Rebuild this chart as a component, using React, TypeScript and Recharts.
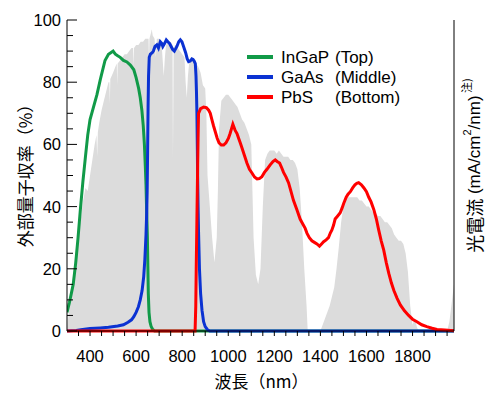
import React from 'react';
import { ComposedChart, Area, Line, XAxis, YAxis, Legend, Label } from 'recharts';

// solar spectrum (gray), photocurrent scaled to the left axis
const spectrumNm = [
  300, 305, 310, 320, 330, 340, 350, 360, 370, 380, 390, 400, 410, 420, 428, 431, 434, 440, 450, 460,
  470, 480, 484, 486, 488, 500, 510, 516, 518, 520, 530, 540, 550, 560, 570, 580, 587, 589, 591, 600,
  610, 620, 630, 640, 650, 654, 656, 658, 665, 668, 672, 680, 686, 690, 700, 710, 720, 725, 730, 740,
  750, 758, 760, 763, 770, 780, 790, 800, 810, 815, 820, 825, 830, 840, 850, 860, 870, 880, 890, 900,
  905, 910, 920, 930, 940, 950, 955, 960, 970, 980, 990, 1000, 1010, 1020, 1030, 1040, 1050, 1060, 1070, 1080,
  1090, 1100, 1105, 1110, 1120, 1130, 1140, 1150, 1160, 1170, 1180, 1190, 1200, 1210, 1220, 1230, 1240, 1250, 1260, 1270,
  1280, 1290, 1300, 1310, 1320, 1330, 1340, 1345, 1400, 1410, 1420, 1430, 1440, 1450, 1460, 1470, 1480, 1490, 1500, 1510,
  1520, 1530, 1540, 1550, 1560, 1570, 1580, 1590, 1600, 1610, 1620, 1630, 1640, 1650, 1660, 1670, 1680, 1690, 1700, 1710,
  1720, 1730, 1740, 1750, 1760, 1770, 1780, 1790, 1800, 1810, 1820, 1830, 1950, 1960, 1970, 1980,
];
const spectrumVal = [
  0, 4, 8, 14, 20, 27, 32, 36, 42, 46, 45, 50, 55, 60, 63, 56, 64, 67, 71, 74,
  77, 80, 80, 73, 81, 83, 85, 86, 79, 86, 87, 88, 89, 89, 90, 91, 91, 85, 91, 92,
  92, 93, 93, 94, 94, 94, 86, 94, 96, 97, 95, 94, 88, 94, 94, 93, 82, 88, 92, 93,
  93, 92, 55, 91, 92, 91, 90, 89, 88, 80, 75, 82, 86, 88, 87, 86, 85, 83, 79, 78,
  70, 50, 40, 30, 22, 30, 45, 65, 74, 75, 76, 76, 75, 74, 73, 72, 70, 68, 67, 65,
  63, 60, 45, 30, 18, 15, 20, 40, 55, 57, 58, 58, 58, 57, 58, 57, 56, 56, 56, 55,
  55, 54, 52, 46, 35, 20, 8, 0, 0, 2, 4, 6, 8, 11, 14, 20, 27, 35, 40, 42,
  43, 43, 43, 43, 43, 42, 42, 41, 40, 40, 39, 38, 38, 37, 37, 36, 35, 35, 34, 33,
  31, 30, 29, 29, 28, 25, 19, 8, 2, 4, 1, 0, 0, 3, 9, 15,
];

// InGaP (Top)
const ingapNm = [
  300, 310, 320, 327, 338, 348, 358, 369, 380, 390, 400, 415, 430, 445, 465, 480, 490, 500, 510, 520,
  531, 545, 560, 575, 590, 600, 611, 618, 625, 631, 636, 640, 643, 646, 649, 651, 653, 656, 660, 665,
  672, 680, 1980,
];
const ingapVal = [
  6, 9, 12.5, 15, 22, 30, 39, 48, 56, 63, 68, 72, 76, 81, 87, 89, 89.5, 90, 89, 88.5,
  88, 87, 86.5, 85.5, 84, 81.5, 78, 75, 71, 66, 60, 53, 47, 38, 30, 21, 12, 6, 3, 1.5,
  0.5, 0, 0,
];

// GaAs (Middle)
const gaasNm = [
  300, 340, 360, 400, 444, 480, 520, 545, 565, 580, 590, 600, 610, 618, 626, 633, 638, 643, 646, 648,
  650, 652, 654, 657, 662, 670, 675, 682, 690, 697, 705, 711, 716, 724, 731, 738, 745, 752, 759, 766,
  772, 777, 785, 792, 799, 806, 815, 822, 828, 835, 842, 847, 852, 857, 860, 862, 864, 866, 867, 869,
  871, 875, 880, 886, 893, 900, 910, 920, 1980,
];
const gaasVal = [
  0, 0.2, 0.4, 0.8, 1, 1.2, 1.6, 2, 2.8, 3.6, 4.6, 6, 7.8, 10, 13, 17.5, 23, 31, 38, 45,
  58, 72, 82, 88, 89, 89.5, 90, 91.5, 92, 91, 93, 92.5, 91.5, 92.5, 93.6, 93, 92.5, 91.5, 90.5, 90,
  90.8, 91.5, 93, 93.6, 93, 91.5, 89.5, 87.5, 86.6, 86.8, 87.5, 87.3, 86.8, 86, 82, 77, 70, 58, 50, 40,
  32, 20, 12, 6.7, 3, 1.4, 0.4, 0, 0,
];

// PbS (Bottom)
const pbsNm = [
  300, 856, 859, 861, 864, 867, 869, 871, 880, 893, 905, 915, 922, 929, 936, 944, 952, 960, 970, 980,
  990, 1001, 1008, 1014, 1020, 1025, 1030, 1038, 1045, 1052, 1059, 1070, 1081, 1092, 1103, 1114, 1125, 1135, 1146, 1157,
  1168, 1182, 1194, 1204, 1212, 1223, 1232, 1240, 1251, 1262, 1272, 1283, 1298, 1312, 1323, 1334, 1342, 1352, 1363, 1374,
  1385, 1396, 1405, 1414, 1425, 1435, 1443, 1450, 1457, 1464, 1475, 1486, 1494, 1501, 1512, 1520, 1530, 1540, 1550, 1558,
  1566, 1578, 1589, 1600, 1610, 1620, 1632, 1643, 1653, 1664, 1675, 1686, 1697, 1708, 1719, 1733, 1747, 1765, 1783, 1800,
  1819, 1840, 1862, 1885, 1906, 1940, 1980,
];
const pbsVal = [
  0, 0, 8, 20, 36, 52, 62, 70, 71.5, 72, 71.8, 71, 70, 68, 66, 64, 62, 60.5, 59.8, 59.8,
  60.5, 62, 63.5, 65, 66.5, 65.5, 64.5, 63.5, 62, 60.5, 59, 56.5, 54, 52, 50.8, 49.5, 48.9, 49, 49.6, 51,
  52, 53.4, 54.5, 55, 54.5, 54, 52.5, 51, 49.5, 47.6, 45, 42, 39, 36, 34.5, 33, 31.4, 30, 29, 28.5,
  28, 27.3, 28, 28.7, 29.3, 30, 31.5, 32.5, 34, 36, 37, 38, 39.5, 41, 43, 44, 44.8, 46, 47, 47.5,
  47.7, 47, 46, 44.8, 43, 41.5, 39, 36, 32.5, 29, 26, 22, 18.5, 15.5, 13, 10.5, 8.4, 6.5, 5, 3.8,
  3, 2, 1.4, 0.9, 0.5, 0.3, 0.1,
];

const xTicks = [
  350, 400, 450, 500, 550, 600, 650, 700, 750, 800, 850, 900, 950, 1000, 1050, 1100, 1150, 1200,
  1250, 1300, 1350, 1400, 1450, 1500, 1550, 1600, 1650, 1700, 1750, 1800, 1850, 1900, 1950,
];
const xLabels = [400, 600, 800, 1000, 1200, 1400, 1600, 1800];
const yTicks = [0, 5, 10, 15, 20, 25, 30, 35, 40, 45, 50, 55, 60, 65, 70, 75, 80, 85, 90, 95, 100];
const yLabels = [0, 20, 40, 60, 80, 100];

const seriesNames = ['InGaP', 'GaAs', 'PbS'];
const seriesParts = ['(Top)', '(Middle)', '(Bottom)'];
const GREEN = '#119a48';
const BLUE = '#0b32d2';
const RED = '#ff0000';
const seriesColors = [GREEN, BLUE, RED];

const toRows = (nm: number[], val: number[]) => nm.map((x, i) => ({ x, v: val[i] }));

const spectrumData = toRows(spectrumNm, spectrumVal);
const ingapData = toRows(ingapNm, ingapVal);
const gaasData = toRows(gaasNm, gaasVal);
const pbsData = toRows(pbsNm, pbsVal);

const LATIN = 'Arial, "Liberation Sans", sans-serif';
const CJK = '"Noto Sans CJK JP", sans-serif';

const YTick = ({ x, y, payload }: any) => {
  const major = yLabels.includes(payload.value);
  return (
    <g>
      <line x1={x + 6} x2={x + 6 + (major ? 10 : 6)} y1={y} y2={y} stroke="#000" strokeWidth={1} />
      {major && (
        <text x={x} y={y} dy="0.36em" textAnchor="end" fontSize={16.5} fontFamily={LATIN} fill="#000">
          {payload.value}
        </text>
      )}
    </g>
  );
};

const LegendBox = () => (
  <svg width={230} height={70}>
    {seriesNames.map((name, i) => (
      <g key={name}>
        <line x1={3} x2={29} y1={13 + i * 20} y2={13 + i * 20} stroke={seriesColors[i]} strokeWidth={4} />
        <text x={37} y={19 + i * 20} fontSize={17} fontFamily={LATIN} fill="#000">{name}</text>
        <text x={91} y={19 + i * 20} fontSize={17} fontFamily={LATIN} fill="#000">{seriesParts[i]}</text>
      </g>
    ))}
  </svg>
);

export default function App() {
  return (
    <div style={{ width: 500, height: 398, background: '#fff' }}>
      <style>{'body{margin:0}'}</style>
      <ComposedChart width={500} height={398} margin={{ top: 20, right: 0, bottom: 0, left: 0 }}>
        <XAxis
          xAxisId="b"
          type="number"
          dataKey="x"
          domain={[300, 1980]}
          allowDataOverflow
          ticks={xTicks}
          interval={0}
          height={67}
          tickSize={5}
          tickMargin={14}
          tickLine={{ stroke: '#000' }}
          axisLine={{ stroke: '#000' }}
          tick={{ fill: '#000', fontSize: 16.5, fontFamily: LATIN }}
          tickFormatter={(v: number) => (xLabels.includes(v) ? String(v) : '')}
        >
          <Label
            content={({ viewBox }: any) => (
              <text
                x={viewBox.x + viewBox.width / 2 + 1}
                y={viewBox.y + 49}
                dominantBaseline="central"
                textAnchor="middle"
                fontSize={17}
                fontFamily={CJK}
                fill="#000"
              >
                波長（nm）
              </text>
            )}
          />
        </XAxis>
        <XAxis
          xAxisId="t"
          orientation="top"
          type="number"
          domain={[300, 1980]}
          height={0}
          tick={false}
          tickLine={false}
          axisLine={{ stroke: '#000' }}
        />
        <YAxis
          yAxisId="l"
          type="number"
          domain={[0, 100]}
          ticks={yTicks}
          interval={0}
          width={67}
          tickSize={0}
          tickMargin={6}
          tickLine={false}
          axisLine={{ stroke: '#000' }}
          tick={<YTick />}
        >
          <Label
            content={({ viewBox }: any) => {
              const cx = 24;
              const cy = viewBox.y + viewBox.height / 2 - 4;
              return (
                <text
                  x={cx}
                  y={cy}
                  transform={`rotate(-90 ${cx} ${cy})`}
                  dominantBaseline="central"
                  textAnchor="middle"
                  fontSize={17}
                  fontFamily={CJK}
                  fill="#000"
                >
                  外部量子収率（%）
                </text>
              );
            }}
          />
        </YAxis>
        <YAxis
          yAxisId="r"
          orientation="right"
          type="number"
          domain={[0, 100]}
          width={46}
          tick={false}
          tickLine={false}
          axisLine={{ stroke: '#000' }}
        >
          <Label
            content={({ viewBox }: any) => {
              const cx = 474;
              const cy = viewBox.y + viewBox.height / 2 - 10;
              return (
                <text
                  x={cx}
                  y={cy}
                  transform={`rotate(-90 ${cx} ${cy})`}
                  dominantBaseline="central"
                  textAnchor="middle"
                  fontSize={17}
                  fontFamily={LATIN}
                  fill="#000"
                >
                  <tspan fontFamily={CJK} fontSize={18}>光電流</tspan>
                  <tspan> (mA/cm</tspan>
                  <tspan fontSize={11} dy={-7}>2</tspan>
                  <tspan dy={7}>/nm)</tspan>
                  <tspan fontFamily={CJK} fontSize={11} dy={-8}> 注)</tspan>
                </text>
              );
            }}
          />
        </YAxis>
        <Legend
          layout="vertical"
          align="center"
          verticalAlign="middle"
          wrapperStyle={{ left: 244, top: 44, width: 230, height: 70 }}
          content={() => <LegendBox />}
        />
        <Area
          xAxisId="b"
          yAxisId="l"
          data={spectrumData}
          dataKey="v"
          type="linear"
          fill="#dcdcdc"
          fillOpacity={1}
          stroke="none"
          isAnimationActive={false}
        />
        <Line
          xAxisId="b"
          yAxisId="l"
          data={ingapData}
          dataKey="v"
          type="linear"
          stroke={GREEN}
          strokeWidth={3}
          dot={false}
          isAnimationActive={false}
        />
        <Line
          xAxisId="b"
          yAxisId="l"
          data={gaasData}
          dataKey="v"
          type="linear"
          stroke={BLUE}
          strokeWidth={3}
          dot={false}
          isAnimationActive={false}
        />
        <Line
          xAxisId="b"
          yAxisId="l"
          data={pbsData}
          dataKey="v"
          type="linear"
          stroke={RED}
          strokeWidth={3}
          dot={false}
          isAnimationActive={false}
        />
      </ComposedChart>
    </div>
  );
}
